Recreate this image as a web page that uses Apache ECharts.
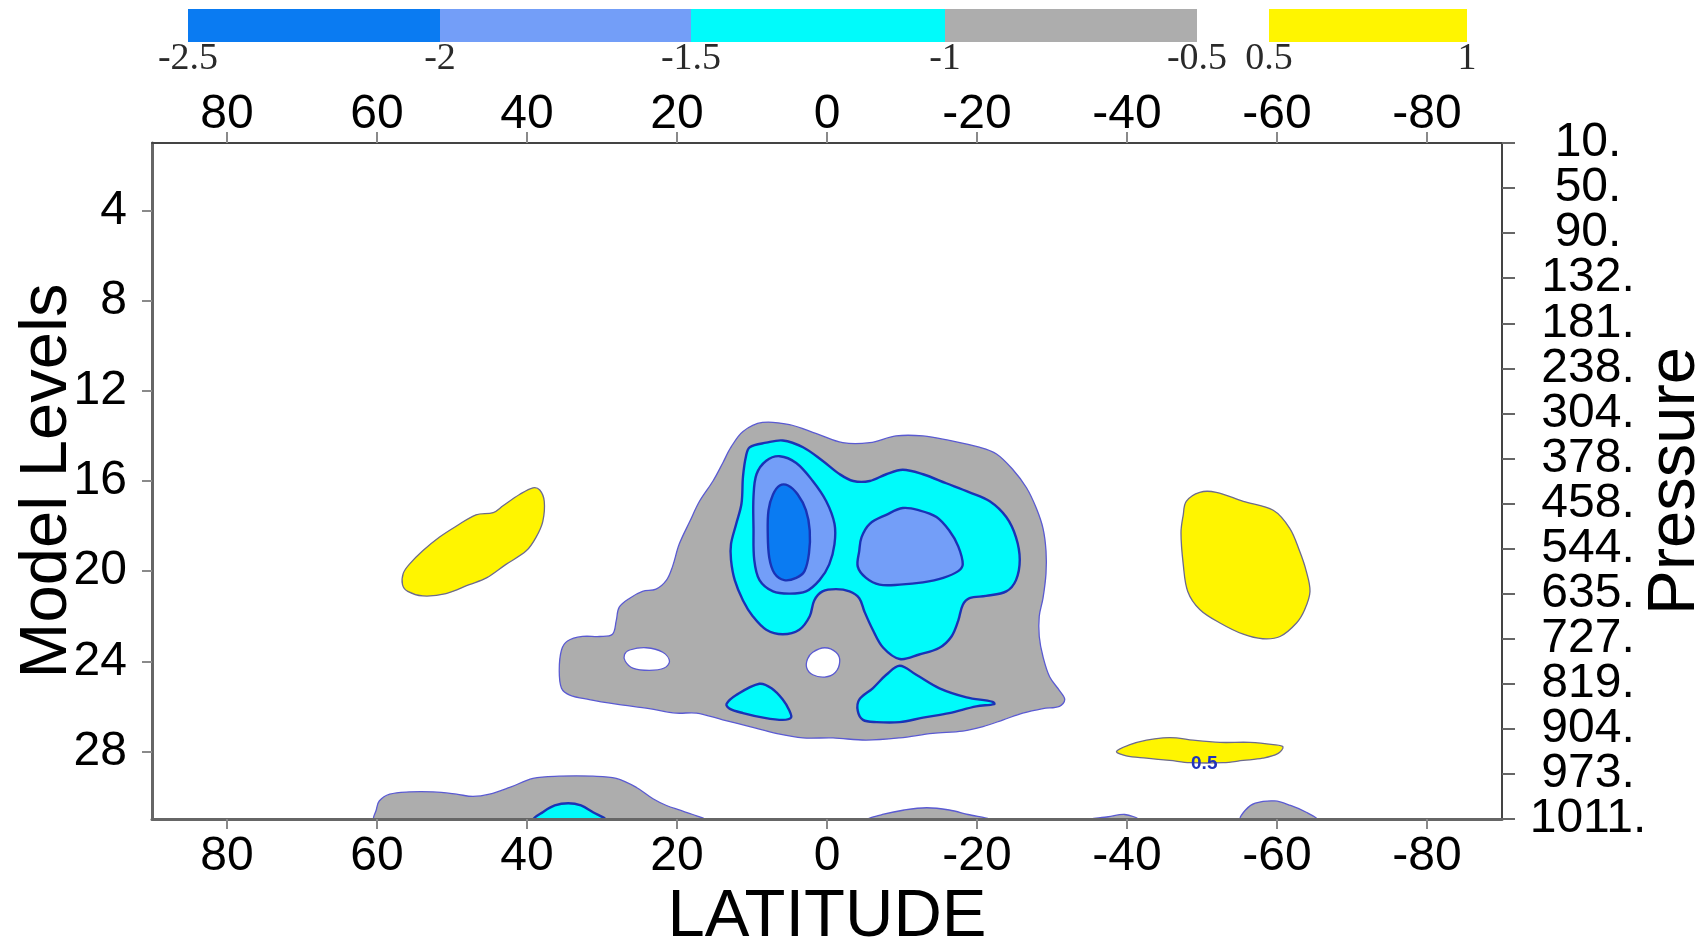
<!DOCTYPE html>
<html>
<head>
<meta charset="utf-8">
<script src="https://cdn.jsdelivr.net/npm/echarts@6/dist/echarts.min.js"></script>
<style>
  html, body { margin: 0; padding: 0; background: #ffffff; }
  #chart { width: 1707px; height: 939px; }
</style>
</head>
<body>
<div id="chart"></div>
<script>
// Zonal-mean anomaly cross-section: latitude vs. model level, filled contours.

// ---- axes ----
const latTicks = [80, 60, 40, 20, 0, -20, -40, -60, -80];
const levelTicks = [4, 8, 12, 16, 20, 24, 28];
// pressure (hPa) at every second model level, from level 1 down to level 31
const pressureLabels = ['10.', '50.', '90.', '132.', '181.', '238.', '304.', '378.',
  '458.', '544.', '635.', '727.', '819.', '904.', '973.', '1011.'];

// ---- contour intervals and their fill colours (null = unshaded) ----
const contourLevels = [-2.5, -2, -1.5, -1, -0.5, 0.5, 1];
const bandColors = ['#0a7bf2', '#739ef8', '#00fbfb', '#adadad', null, '#fff500'];

// ---- contour regions, [latitude, model level] ----
const grayMain = [[11.2,13.8],[8.6,13.4],[5.0,13.5],[1.4,13.9],[-2.1,14.3],[-5.7,14.3],[-9.2,14.0],
  [-12.8,14.0],[-16.3,14.2],[-20.3,14.5],[-22.6,14.8],[-24.8,15.5],[-26.6,16.3],[-27.9,17.2],
  [-28.8,18.1],[-29.2,19.1],[-29.2,20.1],[-28.8,21.2],[-28.3,22.0],[-28.3,22.9],[-28.8,23.8],
  [-29.7,24.7],[-31.0,25.3],[-31.7,25.7],[-31.0,26.0],[-28.8,26.1],[-26.1,26.3],[-23.5,26.6],
  [-20.8,26.9],[-18.1,27.1],[-14.1,27.2],[-9.7,27.4],[-5.2,27.5],[-0.8,27.4],[3.2,27.4],
  [6.8,27.2],[10.3,26.9],[13.9,26.6],[17.4,26.3],[20.1,26.3],[23.7,26.1],[28.1,25.9],
  [31.7,25.7],[34.3,25.5],[35.4,25.2],[35.7,24.4],[35.4,23.5],[34.6,23.1],[32.6,22.9],
  [30.3,22.9],[28.6,22.8],[28.1,22.2],[27.7,21.6],[26.3,21.2],[24.6,20.9],[22.8,20.8],
  [21.4,20.4],[20.6,19.8],[19.7,18.8],[18.3,17.8],[17.0,16.9],[15.2,16.0],[13.9,15.2],[12.8,14.5]];
const holeWest = [[27.0,23.7],[26.3,23.5],[24.1,23.4],[21.9,23.6],[21.0,24.0],[21.7,24.3],
  [23.7,24.4],[25.9,24.3],[26.9,24.0]];
const holeEquator = [[2.6,23.9],[1.9,23.6],[0.3,23.4],[-1.2,23.6],[-1.7,24.0],[-1.1,24.5],
  [0.3,24.7],[1.9,24.6],[2.7,24.3]];
const cyanUpper = [[10.3,14.5],[8.1,14.3],[5.9,14.2],[3.2,14.5],[0.6,15.1],[-1.7,15.7],[-3.5,16.0],
  [-5.7,16.0],[-7.9,15.7],[-10.1,15.5],[-12.8,15.7],[-15.9,16.1],[-19.0,16.5],[-21.7,16.9],
  [-23.9,17.6],[-25.2,18.5],[-25.7,19.5],[-25.2,20.4],[-23.9,20.9],[-21.2,21.1],[-19.0,21.2],
  [-18.1,21.5],[-17.5,22.2],[-16.6,22.9],[-15.0,23.4],[-12.3,23.7],[-9.7,23.9],[-7.5,23.4],
  [-6.1,22.6],[-5.0,21.8],[-4.3,21.2],[-3.0,20.9],[-1.2,20.8],[0.6,20.9],[1.7,21.3],[2.3,22.0],
  [3.7,22.6],[5.9,22.8],[8.1,22.6],[9.9,22.0],[11.2,21.3],[12.3,20.4],[12.8,19.5],[12.8,18.8],
  [12.1,17.9],[11.4,17.0],[11.2,15.8],[10.8,14.9]];
const blueWest = [[9.4,15.7],[8.1,15.1],[6.3,14.9],[4.1,15.2],[1.9,16.0],[0.1,16.9],[-1.0,17.9],
  [-1.0,18.8],[-0.3,19.7],[1.0,20.4],[2.8,20.9],[5.0,21.0],[7.2,20.9],[9.0,20.4],[9.7,19.5],
  [9.8,18.1],[9.8,16.7]];
const coreWest = [[7.2,16.6],[6.3,16.2],[5.2,16.2],[3.9,16.6],[2.8,17.3],[2.3,18.2],[2.4,19.2],
  [3.0,20.0],[4.1,20.3],[5.7,20.4],[7.0,20.1],[7.7,19.4],[7.9,18.3],[7.8,17.3]];
const blueEast = [[-4.6,18.5],[-5.7,17.9],[-7.9,17.5],[-10.1,17.2],[-12.3,17.3],[-14.6,17.6],
  [-16.3,18.2],[-17.5,18.9],[-18.1,19.7],[-17.5,20.0],[-15.5,20.3],[-12.8,20.5],[-9.7,20.6],
  [-7.0,20.6],[-5.2,20.3],[-4.1,19.8],[-4.3,19.1]];
const cyanLowWest = [[13.4,25.9],[12.1,25.5],[9.0,25.0],[7.4,25.2],[5.9,25.7],[5.0,26.2],[4.8,26.5],
  [5.9,26.6],[8.5,26.5],[11.2,26.3],[13.0,26.1]];
const cyanLowEast = [[-4.3,25.7],[-6.1,25.2],[-7.9,24.6],[-9.7,24.2],[-11.9,24.6],[-15.0,25.2],
  [-18.6,25.6],[-22.1,25.8],[-22.3,25.9],[-19.9,26.0],[-16.3,26.3],[-12.8,26.5],[-9.7,26.7],
  [-6.6,26.7],[-4.8,26.6],[-4.1,26.2]];
const yellowNorth = [[56.5,20.1],[55.7,19.7],[53.9,19.1],[51.7,18.5],[49.4,18.0],[46.8,17.5],
  [44.5,17.4],[43.2,17.1],[41.0,16.6],[39.2,16.3],[38.3,16.4],[37.7,16.9],[37.9,17.8],[38.8,18.5],
  [40.1,19.1],[42.8,19.7],[45.4,20.3],[47.7,20.6],[50.8,21.0],[53.9,21.1],[55.9,20.9],[56.6,20.6]];
const yellowSouth = [[-47.9,16.9],[-49.7,16.5],[-51.9,16.5],[-55.5,16.9],[-59.5,17.3],[-61.7,18.1],
  [-63.0,19.1],[-63.9,20.0],[-64.4,20.9],[-63.7,21.7],[-62.6,22.3],[-60.4,22.9],[-58.1,23.0],
  [-55.5,22.8],[-52.4,22.3],[-49.7,21.7],[-48.1,20.9],[-47.5,19.7],[-47.2,18.3],[-47.5,17.5]];
const yellowSouthLow = [[-38.6,28.0],[-40.4,27.7],[-42.6,27.5],[-44.8,27.4],[-46.6,27.4],[-48.8,27.5],
  [-52.4,27.6],[-56.4,27.6],[-59.5,27.7],[-60.8,27.8],[-60.1,28.1],[-58.1,28.3],[-55.5,28.4],
  [-52.8,28.5],[-48.4,28.5],[-45.7,28.4],[-42.6,28.3],[-39.9,28.2]];
const graySfcNorth = [[60.3,31.0],[60.1,30.6],[59.7,30.2],[58.3,29.9],[55.7,29.8],[52.5,29.8],
  [49.4,29.9],[47.2,30.0],[45.0,29.9],[42.3,29.6],[39.2,29.2],[35.7,29.1],[31.2,29.1],[28.1,29.2],
  [25.4,29.6],[23.2,30.1],[21.4,30.4],[19.7,30.6],[17.9,30.8],[16.5,31.0]];
const cyanSfcNorth = [[39.0,31.0],[37.9,30.7],[36.3,30.4],[34.5,30.3],[32.8,30.4],[31.2,30.7],[29.7,31.0]];
const graySfcEquator = [[-5.6,31.0],[-7.4,30.8],[-10.3,30.6],[-13.3,30.5],[-16.3,30.6],[-18.8,30.8],[-21.4,31.0]];
const graySfc40S = [[-35.0,31.0],[-37.5,30.9],[-39.7,30.8],[-41.4,31.0]];
const graySfc60S = [[-55.2,31.0],[-55.8,30.6],[-57.1,30.3],[-59.7,30.2],[-61.8,30.4],[-63.9,30.7],[-65.2,31.0]];

// contour labels drawn on the lines
const contourLabels = [{ lat: -50.3, lev: 28.55, text: '0.5' }];

// ---- styling ----
const thinLine = '#5a5ad2';
const thickLine = '#1a33b6';
const yellowLine = '#6c6a8e';

function bandColor(v) {
  for (let i = 0; i < contourLevels.length - 1; i++) {
    if (v >= contourLevels[i] && v < contourLevels[i + 1]) return bandColors[i];
  }
  return null;
}

// regions in drawing order, each tagged with a representative value of its band
const regions = [
  { path: grayMain, value: -0.75, line: thinLine, width: 1.3 },
  { path: holeWest, value: 0, line: thinLine, width: 1.3 },
  { path: holeEquator, value: 0, line: thinLine, width: 1.3 },
  { path: cyanUpper, value: -1.25, line: thickLine, width: 2.4 },
  { path: blueWest, value: -1.75, line: thickLine, width: 2.4 },
  { path: coreWest, value: -2.25, line: thickLine, width: 2.4 },
  { path: blueEast, value: -1.75, line: thickLine, width: 2.4 },
  { path: cyanLowWest, value: -1.25, line: thickLine, width: 2.4 },
  { path: cyanLowEast, value: -1.25, line: thickLine, width: 2.4 },
  { path: yellowNorth, value: 0.75, line: yellowLine, width: 1.3 },
  { path: yellowSouth, value: 0.75, line: yellowLine, width: 1.3 },
  { path: yellowSouthLow, value: 0.75, line: yellowLine, width: 1.3 },
  { path: graySfcNorth, value: -0.75, line: thinLine, width: 1.3 },
  { path: cyanSfcNorth, value: -1.25, line: thickLine, width: 2.4 },
  { path: graySfcEquator, value: -0.75, line: thinLine, width: 1.3 },
  { path: graySfc40S, value: -0.75, line: thinLine, width: 1.3 },
  { path: graySfc60S, value: -0.75, line: thinLine, width: 1.3 }
];

// ---- colour bar layout (pixel edges of each interval) ----
const barEdges = [188, 440, 691, 945, 1197, 1269, 1467];
const barTop = 9, barHeight = 33;

const graphics = [];
for (let i = 0; i < bandColors.length; i++) {
  if (!bandColors[i]) continue;
  graphics.push({
    type: 'rect', left: barEdges[i], top: barTop,
    shape: { width: barEdges[i + 1] - barEdges[i], height: barHeight },
    style: { fill: bandColors[i] }
  });
}
contourLevels.forEach((lv, i) => {
  graphics.push({
    type: 'text', x: barEdges[i], y: 59,
    style: {
      text: String(lv), fill: '#2a2a2a', align: 'center', verticalAlign: 'middle',
      font: '38px "Liberation Serif", "Times New Roman", serif'
    }
  });
});

const tickFont = { fontFamily: '"Liberation Sans", Arial, sans-serif', fontSize: 48, color: '#000' };
const titleFont = { fontFamily: '"Liberation Sans", Arial, sans-serif', fontSize: 67, color: '#000' };

const chart = echarts.init(document.getElementById('chart'), null, { renderer: 'canvas' });

chart.setOption({
  animation: false,
  backgroundColor: '#ffffff',
  grid: { left: 152, right: 205, top: 143, bottom: 120, containLabel: false, outerBoundsMode: 'none' },
  xAxis: [
    {
      type: 'value', position: 'bottom', min: -90, max: 90, inverse: true, z: 10,
      axisLine: { show: true, onZero: false, lineStyle: { color: '#666', width: 3 } },
      axisTick: { show: true, customValues: latTicks, length: 10, lineStyle: { color: '#8a8a8a', width: 2 } },
      axisLabel: Object.assign({ customValues: latTicks, margin: 14 }, tickFont),
      splitLine: { show: false },
      name: 'LATITUDE', nameLocation: 'middle', nameGap: 65, nameMoveOverlap: false,
      nameTextStyle: titleFont
    },
    {
      type: 'value', position: 'top', min: -90, max: 90, inverse: true, z: 10,
      axisLine: { show: true, onZero: false, lineStyle: { color: '#444', width: 2 } },
      axisTick: { show: true, customValues: latTicks, length: 11, lineStyle: { color: '#8a8a8a', width: 2 } },
      axisLabel: Object.assign({ customValues: latTicks, margin: 4 }, tickFont),
      splitLine: { show: false }
    }
  ],
  yAxis: [
    {
      type: 'value', position: 'left', min: 1, max: 31, inverse: true, z: 10,
      axisLine: { show: true, onZero: false, lineStyle: { color: '#666', width: 3 } },
      axisTick: { show: true, customValues: levelTicks, length: 10, lineStyle: { color: '#8a8a8a', width: 2 } },
      axisLabel: Object.assign({ customValues: levelTicks, margin: 25 }, tickFont),
      splitLine: { show: false },
      name: 'Model Levels', nameLocation: 'middle', nameGap: 71, nameRotate: 90, nameMoveOverlap: false,
      nameTextStyle: titleFont
    },
    {
      // pressure scale: one category per second model level, ends on levels 1 and 31
      type: 'category', position: 'right', data: pressureLabels, boundaryGap: false, inverse: true, z: 10,
      axisLine: { show: true, onZero: false, lineStyle: { color: '#444', width: 2 } },
      axisTick: { show: true, interval: 0, length: 13, lineStyle: { color: '#666', width: 2 } },
      axisLabel: Object.assign({ interval: 0, margin: 86, align: 'center' }, tickFont),
      splitLine: { show: false },
      name: 'Pressure', nameLocation: 'middle', nameGap: 140, nameRotate: 90, nameMoveOverlap: false,
      nameTextStyle: titleFont
    }
  ],
  graphic: graphics,
  series: [
    {
      type: 'custom', xAxisIndex: 0, yAxisIndex: 0, clip: true, z: 2,
      data: regions.map(r => r.path[0]),
      renderItem: function (params, api) {
        const r = regions[params.dataIndex];
        const pts = r.path.map(p => api.coord(p));
        return {
          type: 'polygon',
          shape: { points: pts, smooth: 0.35 },
          style: { fill: bandColor(r.value) || '#ffffff', stroke: r.line, lineWidth: r.width }
        };
      }
    },
    {
      type: 'custom', xAxisIndex: 0, yAxisIndex: 0, clip: true, z: 3,
      data: contourLabels.map(l => [l.lat, l.lev]),
      renderItem: function (params, api) {
        const l = contourLabels[params.dataIndex];
        const pt = api.coord([l.lat, l.lev]);
        return {
          type: 'text', x: pt[0], y: pt[1],
          style: {
            text: l.text, fill: '#2233bb', align: 'center', verticalAlign: 'middle',
            font: 'bold 19px "Liberation Sans Narrow", "Liberation Sans", Arial, sans-serif'
          }
        };
      }
    }
  ]
});
</script>
</body>
</html>
